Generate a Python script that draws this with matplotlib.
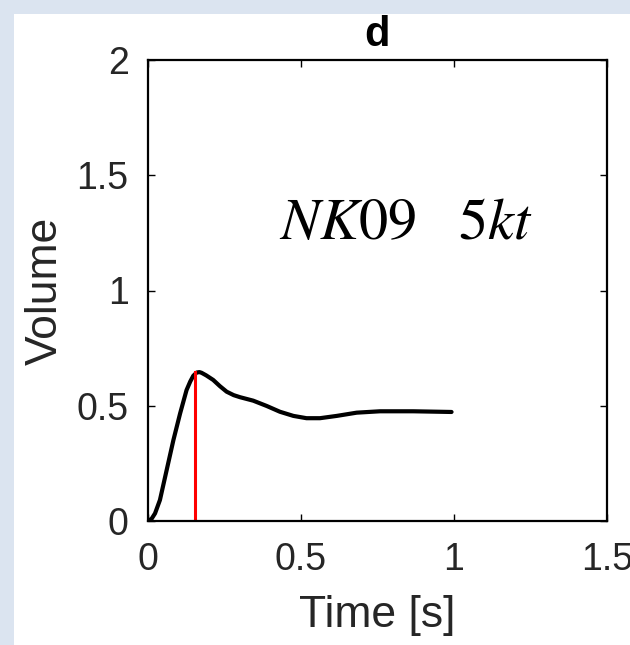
import numpy as np
import matplotlib
matplotlib.use('Agg')
import matplotlib.pyplot as plt
from matplotlib.patches import Rectangle

# response curve
time_s = [0.0, 0.012, 0.023, 0.039, 0.061, 0.083, 0.105, 0.126, 0.138, 0.148,
          0.159, 0.168, 0.175, 0.190, 0.213, 0.235, 0.257, 0.280, 0.301, 0.344,
          0.388, 0.431, 0.475, 0.518, 0.562, 0.617, 0.682, 0.758, 0.867, 0.992]
volume = [0.0, 0.010, 0.033, 0.091, 0.221, 0.351, 0.467, 0.568, 0.605, 0.630,
          0.644, 0.646, 0.643, 0.632, 0.612, 0.585, 0.561, 0.546, 0.537, 0.522,
          0.499, 0.474, 0.456, 0.446, 0.446, 0.456, 0.470, 0.476, 0.476, 0.473]

peak_time = 0.154
peak_volume = 0.648

x_ticks = [0, 0.5, 1, 1.5]
y_ticks = [0, 0.5, 1, 1.5, 2]
x_ticklabels = ['0', '0.5', '1', '1.5']
y_ticklabels = ['0', '0.5', '1', '1.5', '2']

panel_title = 'd'
note_text = r'$NK09\quad 5kt$'


def plot_panel():
    W, H = 630, 645
    plt.rcParams['mathtext.fontset'] = 'stix'
    fig = plt.figure(figsize=(W / 100, H / 100), dpi=100)
    fig.patch.set_facecolor('#dbe4f0')
    # white page area, the blue strip shows on the left and top only
    fig.patches.append(Rectangle((14 / W, 0), 1, (H - 14) / H, transform=fig.transFigure,
                                 facecolor='white', edgecolor='none', zorder=-10))

    ax = fig.add_axes([148 / W, 1 - 521 / H, (607 - 148) / W, (521 - 60) / H])
    ax.set_facecolor('white')

    ax.plot(time_s, volume, color='black', linewidth=3.0,
            solid_capstyle='round', solid_joinstyle='round')
    ax.plot([peak_time, peak_time], [0, peak_volume], color='#ff0000', linewidth=2.2)

    ax.set_xlim(0, 1.5)
    ax.set_ylim(0, 2)
    ax.set_xticks(x_ticks)
    ax.set_xticklabels(x_ticklabels)
    ax.set_yticks(y_ticks)
    ax.set_yticklabels(y_ticklabels)

    font = 'Liberation Sans'
    ax.tick_params(direction='in', length=5, width=1, top=True, right=True,
                   labelsize=27, colors='black')
    ax.tick_params(axis='x', pad=15)
    ax.tick_params(axis='y', pad=14)
    for lab in ax.get_xticklabels() + ax.get_yticklabels():
        lab.set_fontfamily(font)
        lab.set_color('#262626')

    for s in ax.spines.values():
        s.set_linewidth(1.6)
        s.set_color('black')

    ax.set_xlabel('Time [s]', fontsize=32, fontfamily=font, color='#262626', labelpad=12)
    ax.set_ylabel('Volume', fontsize=32, fontfamily=font, color='#262626', labelpad=8)
    ax.set_title(panel_title, fontsize=30, fontweight='bold', fontfamily=font, pad=10)

    ax.text(0.843, 1.297, note_text, fontsize=42, ha='center', va='center', color='black')

    fig.savefig('out.png', dpi=100, facecolor=fig.get_facecolor())


if __name__ == "__main__":
    plot_panel()
